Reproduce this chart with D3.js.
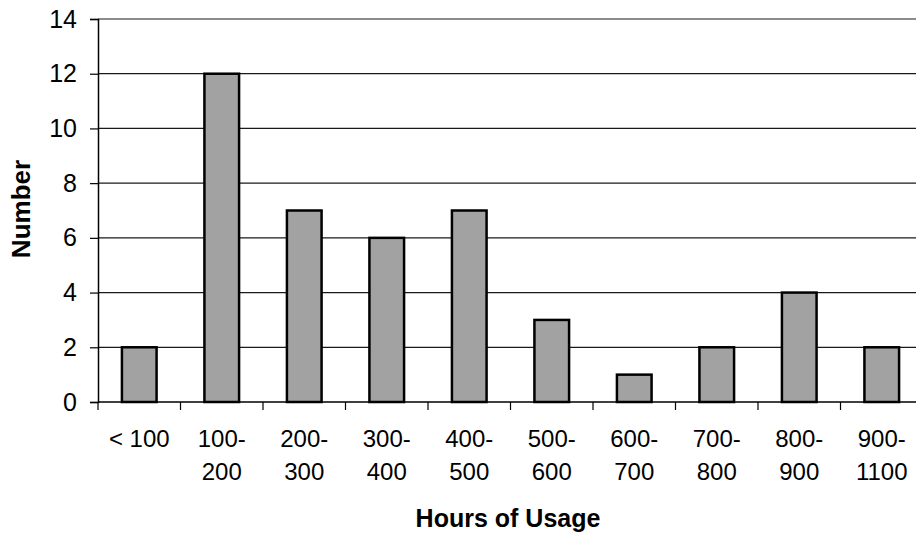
<!DOCTYPE html>
<html><head><meta charset="utf-8">
<script src="https://cdn.jsdelivr.net/npm/d3@7"></script>
<style>body{margin:0;background:#fff}svg{display:block}text{font-family:Arial,"Liberation Sans",sans-serif;fill:#000}</style>
</head><body><svg id="c" width="916" height="537"></svg>
<script>
const categories = ["< 100","100-200","200-300","300-400","400-500","500-600","600-700","700-800","800-900","900-1100"];
const labelLines = [["< 100"],["100-","200"],["200-","300"],["300-","400"],["400-","500"],["500-","600"],["600-","700"],["700-","800"],["800-","900"],["900-","1100"]];
const counts = [2,12,7,6,7,3,1,2,4,2];
const yTicks = [0,2,4,6,8,10,12,14];

(function(){
const svg = d3.select("#c");
const pLeft = 98, pRight = 923, pTop = 19, pBottom = 402;
const x = d3.scaleBand().domain(categories).range([pLeft,pRight]).paddingInner(0.58).paddingOuter(0.29);
const y = d3.scaleLinear().domain([0,14]).range([pBottom,pTop]);

// gridlines
svg.append("g").selectAll("line").data(yTicks.filter(d=>d>0)).join("line")
  .attr("x1",pLeft).attr("x2",916).attr("y1",d=>y(d)).attr("y2",d=>y(d))
  .attr("stroke","#1a1a1a").attr("stroke-width",1.2);

// y axis
const ya = svg.append("g").attr("transform",`translate(${pLeft},0)`)
  .call(d3.axisLeft(y).tickValues(yTicks).tickSize(8).tickPadding(13).tickFormat(d3.format("d")));
ya.select(".domain").attr("stroke","#000").attr("stroke-width",1.5);
ya.selectAll(".tick line").attr("stroke","#000").attr("stroke-width",1.2);
ya.selectAll(".tick text").style("font-size","25px").attr("fill","#000").style("font-family","Arial, 'Liberation Sans', sans-serif");

// bars
svg.append("g").selectAll("rect").data(counts).join("rect")
  .attr("x",(d,i)=>x(categories[i])).attr("width",x.bandwidth())
  .attr("y",d=>y(d)).attr("height",d=>y(0)-y(d))
  .attr("fill","#a2a2a2").attr("stroke","#000").attr("stroke-width",2.5);

// x axis line
svg.append("line").attr("x1",pLeft).attr("x2",916).attr("y1",pBottom).attr("y2",pBottom)
  .attr("stroke","#000").attr("stroke-width",1.5);
// x ticks at category boundaries
const step = x.step();
const bounds = categories.map(c => x(c) - x.paddingOuter()*step);
svg.append("g").selectAll("line").data(bounds).join("line")
  .attr("x1",d=>d).attr("x2",d=>d).attr("y1",pBottom).attr("y2",pBottom+8)
  .attr("stroke","#000").attr("stroke-width",1.2);

// x labels
const xl = svg.append("g").selectAll("text").data(labelLines).join("text")
  .attr("text-anchor","middle").style("font-size","24px")
  .attr("x",(d,i)=>x(categories[i])+x.bandwidth()/2);
xl.selectAll("tspan").data(d=>d).join("tspan")
  .attr("x",function(){return this.parentNode.getAttribute("x");})
  .attr("y",(d,j)=>447+j*33).text(d=>d);

// titles
svg.append("text").attr("x",508).attr("y",527).attr("text-anchor","middle")
  .style("font-size","25px").style("font-weight","bold").text("Hours of Usage");
svg.append("text").attr("transform","translate(30,209) rotate(-90)").attr("text-anchor","middle")
  .style("font-size","26px").style("font-weight","bold").text("Number");
})();
</script></body></html>
